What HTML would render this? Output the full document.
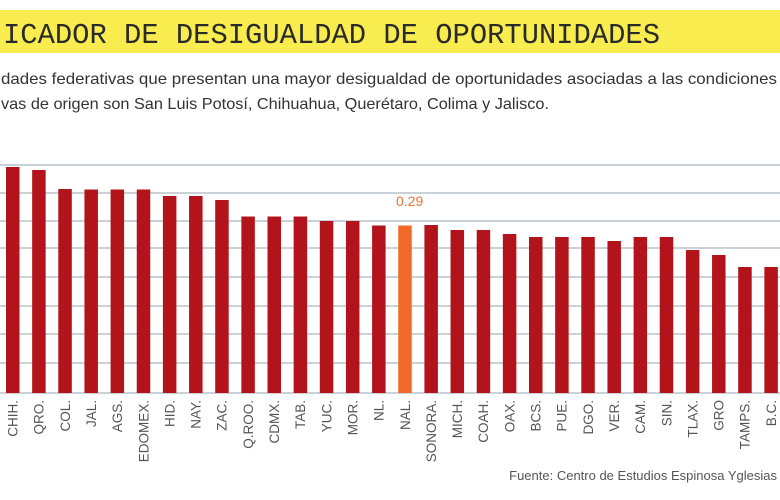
<!DOCTYPE html>
<html><head><meta charset="utf-8"><style>
html,body{margin:0;padding:0;background:#fff;width:780px;height:500px;overflow:hidden}
</style></head><body>
<svg width="780" height="500" xmlns="http://www.w3.org/2000/svg">
<rect x="0" y="10" width="780" height="43" fill="#f9ec4f"/>
<text x="3" y="43" font-family="Liberation Mono, monospace" font-size="28.5" fill="#2a2a2a" textLength="657" lengthAdjust="spacingAndGlyphs">ICADOR DE DESIGUALDAD DE OPORTUNIDADES</text>
<g font-family="Liberation Sans Narrow, Liberation Sans, sans-serif" font-size="16" fill="#333">
<text x="1" y="84" textLength="776" lengthAdjust="spacingAndGlyphs">dades federativas que presentan una mayor desigualdad de oportunidades asociadas a las condiciones</text>
<text x="1" y="109" textLength="548" lengthAdjust="spacingAndGlyphs">vas de origen son San Luis Potosí, Chihuahua, Querétaro, Colima y Jalisco.</text>
</g>
<g stroke="#a9b7c0" stroke-width="1.3">
<line x1="0" x2="780" y1="165" y2="165"/><line x1="0" x2="780" y1="193" y2="193"/>
<line x1="0" x2="780" y1="221" y2="221"/><line x1="0" x2="780" y1="248" y2="248"/>
<line x1="0" x2="780" y1="277" y2="277"/><line x1="0" x2="780" y1="306" y2="306"/>
<line x1="0" x2="780" y1="334" y2="334"/><line x1="0" x2="780" y1="363" y2="363"/>
<line x1="0" x2="780" y1="393" y2="393"/>
</g>
<g id="bars"></g>
<text x="396" y="206" font-family="Liberation Sans, sans-serif" font-size="14" fill="#f07030">0.29</text>
<g id="labels" font-family="Liberation Sans Narrow, Liberation Sans, sans-serif" font-size="13.5" fill="#555"></g>
<text x="777" y="480" text-anchor="end" font-family="Liberation Sans Narrow, Liberation Sans, sans-serif" font-size="13" fill="#555">Fuente:  Centro de Estudios Espinosa Yglesias</text>
</svg>
<script>
var d=[["CHIH.",167],["QRO.",170],["COL.",189],["JAL.",189.5],["AGS.",189.5],["EDOMEX.",189.5],["HID.",196],["NAY.",196],["ZAC.",200],["Q.ROO.",216.5],["CDMX.",216.5],["TAB.",216.5],["YUC.",221],["MOR.",221],["NL.",225.5],["NAL.",225.5],["SONORA.",225],["MICH.",230],["COAH.",230],["OAX.",234],["BCS.",237],["PUE.",237],["DGO.",237],["VER.",241],["CAM.",237],["SIN.",237],["TLAX.",250],["GRO",255],["TAMPS.",267],["B.C.",267]];
var ns="http://www.w3.org/2000/svg",b=document.getElementById("bars"),l=document.getElementById("labels");
d.forEach(function(e,i){var x=6+i*26.15;
var r=document.createElementNS(ns,"rect");r.setAttribute("x",x);r.setAttribute("y",e[1]);r.setAttribute("width",13.5);r.setAttribute("height",393-e[1]);r.setAttribute("fill",i==15?"#f26a2a":"#b3141b");b.appendChild(r);
var t=document.createElementNS(ns,"text");t.setAttribute("text-anchor","end");t.setAttribute("transform","translate("+(x+11.5)+",400) rotate(-90)");t.textContent=e[0];l.appendChild(t);});
</script>
</body></html>
